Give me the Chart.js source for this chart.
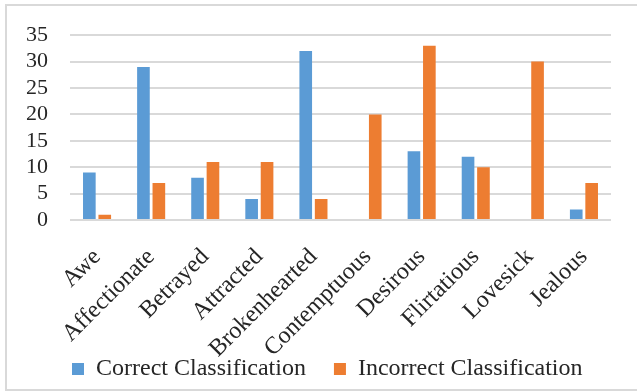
<!DOCTYPE html>
<html><head><meta charset="utf-8">
<script src="https://cdn.jsdelivr.net/npm/chart.js@4/dist/chart.umd.min.js"></script>
<style>
html,body{margin:0;padding:0;background:#fff;overflow:hidden}
#frame{position:absolute;left:5px;top:4px;width:640px;height:387px;border:2px solid #d9d9d9;box-sizing:border-box}
#wrap{position:absolute;left:0;top:0;width:637px;height:392px}
</style></head><body>
<div id="frame"></div>
<div id="wrap"><canvas id="c" width="637" height="392"></canvas></div>
<script>
const categories = ['Awe','Affectionate','Betrayed','Attracted','Brokenhearted','Contemptuous','Desirous','Flirtatious','Lovesick','Jealous'];
const correctValues = [9, 29, 8, 4, 32, 0, 13, 12, 0, 2];
const incorrectValues = [1, 7, 11, 11, 4, 20, 33, 10, 30, 7];
const seriesNames = ['Correct Classification', 'Incorrect Classification'];
const yMin = 0, yMax = 35, yStep = 5;

const FONT = "'Liberation Serif', 'Times New Roman', serif";
const TEXT = '#262626';

// Legend overlays the area under the rotated category labels (as in the reference)
const legendPlace = {
  id: 'legendPlace',
  beforeLayout(chart) {
    const lg = chart.legend;
    if (lg && !lg._zeroHeightPatch) {
      const origFit = lg.fit.bind(lg);
      lg.fit = function () { origFit(); this.height = 0; };
      lg._zeroHeightPatch = true;
    }
  },
  afterLayout(chart) {
    const lg = chart.legend;
    const p = lg.options.labels.padding;
    const w = lg.right - lg.left;
    lg.left = 72 - p;
    lg.right = lg.left + w;
    lg.top = 369 - p - 12;
    lg.bottom = lg.top + 24 + 2 * p;
  }
};

new Chart(document.getElementById('c'), {
  type: 'bar',
  data: {
    labels: categories,
    datasets: [
      { label: seriesNames[0], data: correctValues, backgroundColor: '#5B9BD5', borderWidth: 0 },
      { label: seriesNames[1], data: incorrectValues, backgroundColor: '#ED7D31', borderWidth: 0 }
    ]
  },
  options: {
    responsive: false,
    animation: false,
    devicePixelRatio: 1,
    categoryPercentage: 0.57,
    barPercentage: 0.82,
    layout: { padding: { top: 35, right: 26, bottom: 0, left: 0 } },
    plugins: {
      legend: {
        position: 'bottom',
        align: 'start',
        labels: {
          font: { family: FONT, size: 24 },
          color: TEXT,
          boxWidth: 12,
          boxHeight: 12,
          padding: 28
        }
      },
      tooltip: { enabled: false }
    },
    scales: {
      x: {
        grid: { display: false, drawTicks: false },
        border: { display: false },
        ticks: {
          font: { family: FONT, size: 24 },
          color: TEXT,
          minRotation: 45,
          maxRotation: 45,
          autoSkip: false,
          padding: 23
        },
        afterFit(scale) { scale.height = 172; }
      },
      y: {
        min: yMin,
        max: yMax,
        grid: { color: '#d9d9d9', lineWidth: 2, drawTicks: false, tickLength: 0 },
        border: { display: false },
        ticks: {
          stepSize: yStep,
          autoSkip: false,
          font: { family: FONT, size: 22 },
          color: TEXT,
          padding: 22
        },
        afterFit(scale) { scale.width = 70; }
      }
    }
  },
  plugins: [legendPlace]
});
</script>
</body></html>
